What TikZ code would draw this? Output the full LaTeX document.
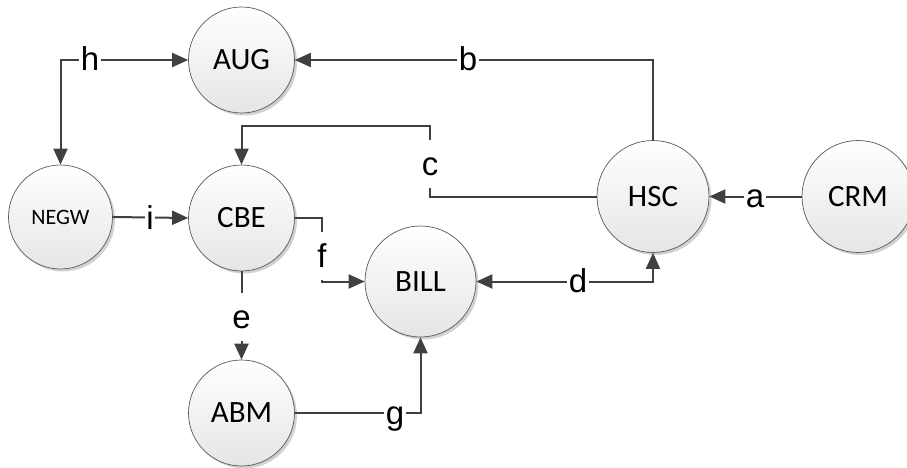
\documentclass[tikz,border=0pt]{standalone}
\usepackage{fontspec}
\setmainfont{Carlito}
\newfontfamily\lblfont{Liberation Sans}
\usetikzlibrary{arrows.meta,shadows}
\definecolor{edgecol}{HTML}{404040}
\definecolor{rimcol}{HTML}{595959}
\begin{document}
\begin{tikzpicture}[x=1pt,y=-1pt,
  proc/.style={circle, draw=rimcol, line width=0.7pt, top color=white, bottom color=black!10,
    drop shadow={shadow xshift=2.5pt, shadow yshift=-2.5pt, opacity=0.18, fill=black},
    inner sep=0pt, font=\fontsize{31}{37}\selectfont},
  conn/.style={draw=edgecol, line width=2pt, -{Triangle[length=16pt,width=14pt]}},
  both/.style={draw=edgecol, line width=2pt, {Triangle[length=16pt,width=14pt]}-{Triangle[length=16pt,width=14pt]}},
  lbl/.style={fill=white, inner xsep=1.5pt, inner ysep=6pt, text height=29pt, text depth=7pt,
    font=\lblfont\fontsize{33}{40}\selectfont}]
\useasboundingbox (0,0) rectangle (907,468);

\node[proc, minimum size=106pt] (AUG) at (241.5,60) {AUG};
\node[proc, minimum size=106pt] (CBE) at (241.5,218) {CBE};
\node[proc, minimum size=104pt, font=\fontsize{22}{26}\selectfont] (NEGW) at (60.5,217) {NEGW};
\node[proc, minimum size=106pt] (ABM) at (241.5,413) {ABM};
\node[proc, minimum size=111pt] (BILL) at (420.5,281.5) {BILL};
\node[proc, minimum size=112pt] (HSC) at (653,196.5) {HSC};
\node[proc, minimum size=112pt] (CRM) at (858,196.5) {CRM};

\draw[conn] (CRM.west) -- (HSC.east);
\draw[conn] (HSC.north) |- (AUG.east);
\draw[conn] (HSC.west) -| (430,126) -| (CBE.north);
\draw[both] (BILL.east) -| (HSC.south);
\draw[conn] (CBE.south) -- (ABM.north);
\draw[conn] (CBE.east) -| (322,250) |- (BILL.west);
\draw[conn] (ABM.east) -| (BILL.south);
\draw[both] (NEGW.north) |- (AUG.west);
\draw[conn] (NEGW.east) -- (CBE.west);

\node[lbl] (la) at (755,196.5) {a};
\node[lbl] (lb) at (468,60) {b};
\node[lbl] (lc) at (430,164) {c};
\node[lbl] (ld) at (578,281.5) {d};
\node[lbl] (le) at (241.5,317) {e};
\node[lbl] (lf) at (322,256) {f};
\node[lbl] (lg) at (395,413) {g};
\node[lbl] (lh) at (90,60) {h};
\node[lbl] (li) at (150,218) {i};
\end{tikzpicture}
\end{document}
